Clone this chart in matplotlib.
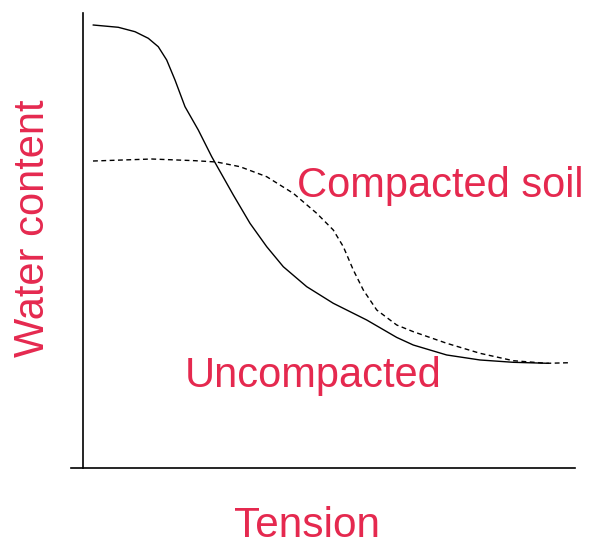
import numpy as np
import matplotlib.pyplot as plt

plt.rcParams['font.family'] = ['Liberation Sans', 'DejaVu Sans']

# water content curves (tension 0-10, water content 0-100)
unc_x = [0.209, 0.717, 1.057, 1.327, 1.530, 1.701, 1.870, 2.073, 2.343, 2.616, 3.055,
         3.394, 3.734, 4.071, 4.547, 5.087, 5.766, 6.376, 6.713, 7.392, 8.069, 8.746, 9.457]
unc_y = [97.36, 96.86, 95.89, 94.44, 92.59, 89.67, 85.27, 79.41, 74.29, 68.42, 60.00,
         53.78, 48.64, 44.24, 39.85, 36.20, 32.53, 28.70, 27.03, 24.84, 23.74, 23.23, 23.01]
comp_x = [0.203, 1.396, 2.276, 2.717, 3.191, 3.734, 4.274, 4.750, 5.087, 5.291, 5.494,
          5.697, 5.970, 6.376, 6.713, 7.392, 8.069, 8.746, 9.425, 9.898]
comp_y = [67.47, 67.91, 67.54, 67.25, 66.22, 64.02, 60.37, 55.98, 52.31, 48.64, 43.52,
          39.12, 34.73, 31.43, 29.96, 27.41, 25.21, 23.58, 23.01, 23.14]

fig = plt.figure(figsize=(5.92, 5.46), dpi=100)
W, H = 592, 546
ax = fig.add_axes([71 / W, (H - 468) / H, (575 - 71) / W, (468 - 13) / H])

ax.plot(unc_x, unc_y, color='black', lw=1.0, solid_joinstyle='round')
ax.plot(comp_x, comp_y, color='black', lw=1.0, ls=(0, (3.5, 2.5)))

ax.set_xlim(-0.244, 10.0)
ax.set_ylim(0, 100)
ax.spines['left'].set_position(('data', 0))
ax.spines['right'].set_visible(False)
ax.spines['top'].set_visible(False)
for s in ['left', 'bottom']:
    ax.spines[s].set_linewidth(1.2)
ax.set_xticks([])
ax.set_yticks([])
ax.patch.set_alpha(0)

red = '#E5294F'
fig.text(440 / W, 1 - 186 / H, 'Compacted soil', color=red, fontsize=30, ha='center', va='center')
fig.text(313 / W, 1 - 376 / H, 'Uncompacted', color=red, fontsize=30, ha='center', va='center')
fig.text(307 / W, 1 - 526 / H, 'Tension', color=red, fontsize=30.5, ha='center', va='center')
fig.text(33 / W, 1 - 228 / H, 'Water content', color=red, fontsize=30, ha='center', va='center', rotation=90)

fig.savefig('out.png', dpi=100)
